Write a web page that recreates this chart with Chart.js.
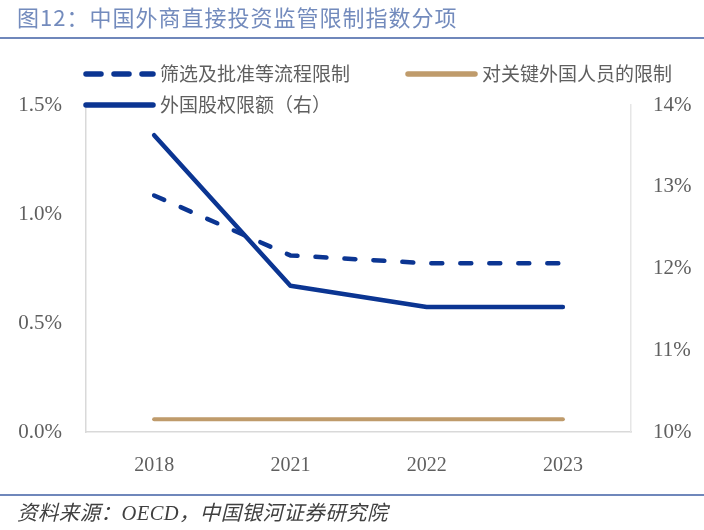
<!DOCTYPE html>
<html lang="zh">
<head>
    <meta charset="UTF-8">
    <title>图12 中国外商直接投资监管限制指数分项</title>
    <script src="https://cdn.jsdelivr.net/npm/chart.js"></script>
    <style>
        html, body {
            margin: 0;
            padding: 0;
            background: #fff;
        }
        #page {
            position: relative;
            width: 704px;
            height: 530px;
            overflow: hidden;
        }
        #chartBox {
            position: absolute;
            left: 0;
            top: 0;
            width: 704px;
            height: 530px;
        }
        #title {
            position: absolute;
            left: 17px;
            top: 0px;
            font-family: 'Noto Sans CJK SC', sans-serif;
            font-size: 22px;
            letter-spacing: 1px;
            color: #738bbd;
            white-space: nowrap;
        }
        .rule {
            position: absolute;
            left: 0;
            width: 704px;
            height: 2px;
            background: #6f87bb;
        }
        #source {
            position: absolute;
            left: 17px;
            top: 496px;
            font-family: 'Liberation Serif', 'Noto Sans CJK SC', serif;
            font-style: italic;
            font-size: 20.5px;
            letter-spacing: 0.4px;
            color: #404040;
            white-space: nowrap;
        }
    </style>
</head>
<body>
<div id="page">
    <div id="chartBox"><canvas id="indexChart"></canvas></div>
    <div id="title">图12：中国外商直接投资监管限制指数分项</div>
    <div class="rule" style="top: 37px;"></div>
    <div class="rule" style="top: 494px;"></div>
    <div id="source">资料来源：OECD，中国银河证券研究院</div>
</div>

<script>
    // values, in percent
    const years = ['2018', '2021', '2022', '2023'];
    const screeningRestr = [1.085, 0.81, 0.774, 0.774];     // left axis
    const keyPersonnelRestr = [0.058, 0.058, 0.058, 0.058]; // left axis
    const equityLimit = [13.63, 11.79, 11.53, 11.53];       // right axis
    const leftTicks = [0.0, 0.5, 1.0, 1.5];
    const rightTicks = [10, 11, 12, 13, 14];

    const NAVY = '#0b3592';
    const TAN = '#bf9b6b';
    const TEXT = '#5f5f5f';
    const AXIS_FONT = "'Liberation Serif', 'Noto Sans CJK SC', serif";

    // legend laid out in two columns over the top of the plot
    const legendSlots = [
        { x: 83, y: 74 },
        { x: 405, y: 74 },
        { x: 83, y: 105 }
    ];

    const cornerLegend = {
        id: 'cornerLegend',
        afterDraw(chart) {
            const ctx = chart.ctx;
            ctx.save();
            chart.data.datasets.forEach((ds, i) => {
                const slot = legendSlots[i];
                ctx.beginPath();
                ctx.lineWidth = 5.5;
                ctx.lineCap = 'round';
                ctx.strokeStyle = ds.borderColor;
                ctx.setLineDash(ds.borderDash ? [15, 13] : []);
                ctx.moveTo(slot.x + 3, slot.y);
                ctx.lineTo(slot.x + 70, slot.y);
                ctx.stroke();
                ctx.setLineDash([]);
                ctx.fillStyle = TEXT;
                ctx.font = "19px 'Noto Sans CJK SC', sans-serif";
                ctx.textBaseline = 'middle';
                ctx.fillText(ds.label, slot.x + 77, slot.y);
            });
            ctx.restore();
        }
    };

    const ctx = document.getElementById('indexChart').getContext('2d');

    new Chart(ctx, {
        type: 'line',
        data: {
            labels: years,
            datasets: [{
                label: '筛选及批准等流程限制',
                data: screeningRestr,
                yAxisID: 'y',
                borderColor: NAVY,
                borderWidth: 4.5,
                borderDash: [11, 18],
                borderCapStyle: 'round',
                order: 2
            }, {
                label: '对关键外国人员的限制',
                data: keyPersonnelRestr,
                yAxisID: 'y',
                borderColor: TAN,
                borderWidth: 4,
                borderCapStyle: 'round',
                order: 3
            }, {
                label: '外国股权限额（右）',
                data: equityLimit,
                yAxisID: 'y1',
                borderColor: NAVY,
                borderWidth: 4.5,
                borderCapStyle: 'round',
                order: 1
            }]
        },
        options: {
            responsive: true,
            maintainAspectRatio: false,
            animation: false,
            layout: {
                padding: { top: 105, bottom: 38, left: 0, right: 0 }
            },
            elements: {
                point: { radius: 0, hoverRadius: 0 },
                line: { tension: 0, borderJoinStyle: 'round' }
            },
            plugins: {
                legend: { display: false },
                tooltip: { enabled: false }
            },
            scales: {
                x: {
                    offset: true,
                    grid: { display: false },
                    border: { display: true, color: '#d9d9d9', width: 1.5 },
                    ticks: {
                        color: TEXT,
                        padding: 14,
                        font: { family: AXIS_FONT, size: 20 }
                    },
                    afterFit: s => { s.height = 60; }
                },
                y: {
                    position: 'left',
                    min: 0,
                    max: 1.5,
                    grid: { display: false },
                    border: { display: true, color: '#d9d9d9', width: 1.5 },
                    afterBuildTicks: s => { s.ticks = leftTicks.map(v => ({ value: v })); },
                    ticks: {
                        color: TEXT,
                        padding: 16,
                        font: { family: AXIS_FONT, size: 21 },
                        callback: v => v.toFixed(1) + '%'
                    },
                    afterFit: s => { s.width = 86; }
                },
                y1: {
                    position: 'right',
                    min: 10,
                    max: 14,
                    grid: { display: false },
                    border: { display: true, color: '#e6e6e6', width: 1.5 },
                    afterBuildTicks: s => { s.ticks = rightTicks.map(v => ({ value: v })); },
                    ticks: {
                        color: TEXT,
                        padding: 14,
                        font: { family: AXIS_FONT, size: 21 },
                        callback: v => v + '%'
                    },
                    afterFit: s => { s.width = 73; }
                }
            }
        },
        plugins: [cornerLegend]
    });
</script>
</body>
</html>
